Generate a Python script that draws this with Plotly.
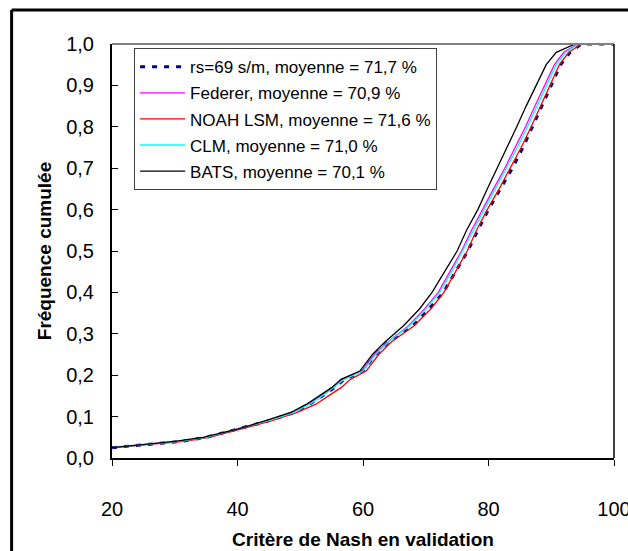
import plotly.graph_objects as go

# Cumulative frequency levels (y) shared by all series
FREQ = [0.025, 0.03, 0.04, 0.05, 0.07, 0.09, 0.11, 0.13, 0.15, 0.17, 0.19, 0.21,
        0.25, 0.28, 0.32, 0.36, 0.40, 0.45, 0.50, 0.55, 0.60, 0.65, 0.70, 0.75,
        0.80, 0.85, 0.90, 0.95, 0.98, 1.0, 1.0]

# Nash criterion (x) reached at each frequency level, per series
NASH_RS69 = [20, 24, 31, 35, 40, 45, 49, 51.5, 53.5, 55.5, 57, 60, 62, 64, 68, 70.5,
             72.8, 74.8, 76.7, 78.3, 80, 81.9, 83.8, 85.5, 87.0, 88.5, 90.0, 91.5,
             93.0, 94.8, 100]
NASH_FEDERER = [20, 23.5, 30.5, 35, 40, 44.8, 48.8, 51.3, 53.3, 55.3, 56.8, 59.8, 61.8,
                64, 67.3, 69.8, 72, 73.9, 75.7, 77.3, 79, 80.8, 82.6, 84.3, 85.9, 87.4,
                88.9, 90.5, 92.0, 94.2, 100]
NASH_NOAH = [20, 24, 31.5, 35.5, 40.5, 45.5, 49.5, 52.5, 54.5, 56.5, 58, 60.5, 62.5,
             64.5, 68.2, 70.8, 72.9, 74.8, 76.6, 78.1, 79.8, 81.7, 83.5, 85.2, 86.8,
             88.3, 89.8, 91.3, 92.8, 94.8, 100]
NASH_CLM = [20, 23.5, 30.5, 35, 40, 45, 49, 51.5, 53.5, 55.3, 57, 60, 62, 64, 67.5, 70,
            72.2, 74.1, 75.9, 77.6, 79.3, 81.1, 82.9, 84.6, 86.2, 87.7, 89.2, 90.8,
            92.3, 94.4, 100]
NASH_BATS = [20, 23, 30, 34.5, 40, 44.5, 48.5, 51, 53, 55, 56.5, 59.5, 61.5, 63.5, 66.5,
             69, 71, 73, 75, 76.5, 78.3, 79.8, 81.4, 83.0, 84.5, 86.0, 87.6, 89.2, 90.8,
             93.8, 100]

SERIES_NAMES = ["rs=69 s/m, moyenne = 71,7 %", "Federer, moyenne = 70,9 %",
                "NOAH LSM, moyenne = 71,6 %", "CLM, moyenne = 71,0 %",
                "BATS, moyenne = 70,1 %"]

X_TICKS = [20, 40, 60, 80, 100]
X_TICK_LABELS = ["20", "40", "60", "80", "100"]
Y_TICKS = [0, 0.1, 0.2, 0.3, 0.4, 0.5, 0.6, 0.7, 0.8, 0.9, 1.0]
Y_TICK_LABELS = ["0,0", "0,1", "0,2", "0,3", "0,4", "0,5", "0,6", "0,7", "0,8", "0,9", "1,0"]

series = [
    (NASH_RS69, "#000080", 3, "5px,7px"),
    (NASH_FEDERER, "#FF00FF", 1.3, "solid"),
    (NASH_NOAH, "#FF0000", 1.3, "solid"),
    (NASH_CLM, "#00FFFF", 1.3, "solid"),
    (NASH_BATS, "#000000", 1.3, "solid"),
]

fig = go.Figure()
for i, (xs, color, w, dash) in enumerate(series):
    fig.add_trace(go.Scatter(
        x=xs, y=FREQ, mode="lines", name=SERIES_NAMES[i],
        line=dict(color=color, width=w, dash=dash),
        legendgroup=str(i), legendrank=i + 1,
    ))

font = "Liberation Sans, Arial, sans-serif"
fig.update_layout(
    width=628, height=551,
    margin=dict(l=112, r=14, t=44, b=93),
    paper_bgcolor="white", plot_bgcolor="white",
    font=dict(family=font, color="black"),
    showlegend=True,
    legend=dict(
        x=0.044, y=0.99, xanchor="left", yanchor="top",
        bgcolor="white", bordercolor="#404040", borderwidth=1,
        font=dict(size=17, family=font, color="black"),
        tracegroupgap=1, traceorder="grouped", itemwidth=45,
    ),
    xaxis=dict(
        range=[20, 100], tickvals=X_TICKS, ticktext=X_TICK_LABELS,
        showgrid=False, zeroline=False, showline=True, linecolor="black", linewidth=2,
        ticks="outside", ticklen=6, tickcolor="black", tickwidth=1,
        tickfont=dict(size=20), ticklabelstandoff=26, automargin=False,
        ticklabeloverflow="allow",
        title=dict(text="<b>Critère de Nash en validation</b>", font=dict(size=19), standoff=14),
    ),
    yaxis=dict(
        range=[0, 1.0], tickvals=Y_TICKS, ticktext=Y_TICK_LABELS,
        showgrid=False, zeroline=False, showline=True, linecolor="black", linewidth=2,
        ticks="inside", ticklen=6, tickcolor="black", tickwidth=1,
        tickfont=dict(size=20), ticklabelstandoff=12, automargin=False,
        title=dict(text="<b>Fréquence cumulée</b>", font=dict(size=19), standoff=10),
    ),
    shapes=[
        dict(type="line", xref="paper", yref="paper", x0=0, x1=1, y0=1, y1=1,
             line=dict(color="#808080", width=2)),
        dict(type="line", xref="paper", yref="paper", x0=1, x1=1, y0=0, y1=1,
             line=dict(color="black", width=1.5)),
        dict(type="line", xref="paper", yref="paper", x0=-0.2, x1=-0.2, y0=-0.3, y1=1.082,
             line=dict(color="black", width=3)),
        dict(type="line", xref="paper", yref="paper", x0=-0.2, x1=1.1, y0=1.082, y1=1.082,
             line=dict(color="black", width=3)),
    ],
)

fig.write_html(
    "out.html",
    config={"displayModeBar": False},
    post_script="document.body.style.margin='0';document.body.style.padding='0';"
                "document.body.style.overflow='hidden';",
)
